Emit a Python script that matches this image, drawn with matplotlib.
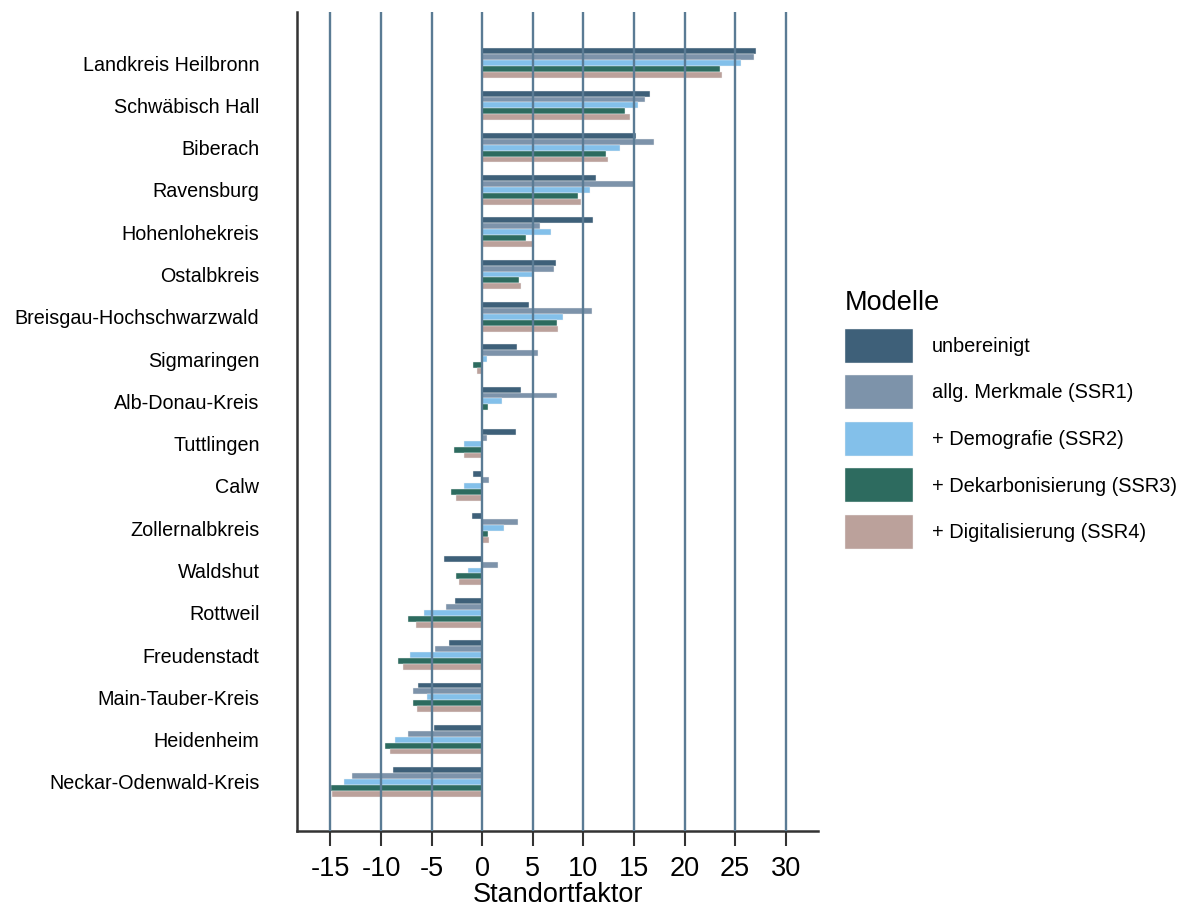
import numpy as np
import matplotlib
matplotlib.use("Agg")
from matplotlib import pyplot as plt

plt.rcParams['font.family'] = ['Liberation Sans', 'DejaVu Sans']
plt.rcParams['axes.unicode_minus'] = False

# Landkreise, von oben nach unten
kreise = ['Landkreis Heilbronn', 'Schwäbisch Hall', 'Biberach', 'Ravensburg',
          'Hohenlohekreis', 'Ostalbkreis', 'Breisgau-Hochschwarzwald', 'Sigmaringen',
          'Alb-Donau-Kreis', 'Tuttlingen', 'Calw', 'Zollernalbkreis', 'Waldshut',
          'Rottweil', 'Freudenstadt', 'Main-Tauber-Kreis', 'Heidenheim',
          'Neckar-Odenwald-Kreis']

unbereinigt = [27.1, 16.6, 15.2, 11.3, 11.0, 7.3, 4.6, 3.4, 3.8, 3.3, -0.9, -1.0,
               -3.8, -2.7, -3.3, -6.3, -4.8, -8.8]
ssr1 = [26.9, 16.1, 17.0, 15.0, 5.7, 7.1, 10.9, 5.5, 7.4, 0.5, 0.7, 3.5,
        1.6, -3.6, -4.7, -6.8, -7.3, -12.9]
ssr2 = [25.6, 15.4, 13.6, 10.7, 6.8, 5.0, 8.0, 0.5, 2.0, -1.8, -1.8, 2.2,
        -1.4, -5.7, -7.1, -5.5, -8.6, -13.7]
ssr3 = [23.5, 14.1, 12.2, 9.5, 4.3, 3.6, 7.4, -0.9, 0.6, -2.8, -3.1, 0.6,
        -2.6, -7.3, -8.3, -6.8, -9.6, -14.9]
ssr4 = [23.7, 14.6, 12.4, 9.8, 5.1, 3.8, 7.5, -0.5, 0.1, -1.8, -2.6, 0.7,
        -2.3, -6.5, -7.8, -6.4, -9.1, -14.8]

modelle = ['unbereinigt', 'allg. Merkmale (SSR1)', '+ Demografie (SSR2)',
           '+ Dekarbonisierung (SSR3)', '+ Digitalisierung (SSR4)']
farben = ['#3e6079', '#7d93aa', '#83c0ea', '#2d6b5f', '#bba19b']
serien = [unbereinigt, ssr1, ssr2, ssr3, ssr4]

fig = plt.figure(figsize=(11.88, 9.06), dpi=100)
ax = fig.add_axes([0.25, 0.0828, 0.4386, 0.904])

y = np.arange(len(kreise))[::-1]
h = 0.14
for i, (werte, farbe, name) in enumerate(zip(serien, farben, modelle)):
    ax.barh(y + (2 - i) * h, werte, height=h, color=farbe, label=name,
            edgecolor='#f2f2f2', linewidth=0.3)

ax.set_xlim(-18.3, 33.2)
ax.set_ylim(-1.16, 18.21)
ax.set_xticks(np.arange(-15, 31, 5))
ax.set_yticks(y)
ax.set_yticklabels(kreise, fontsize=14.2)
ax.tick_params(axis='y', length=0, pad=27)
ax.tick_params(axis='x', length=11, width=1.5, color='#333333', labelsize=19.5, pad=7)

ax.grid(axis='x', color='#5a7b94', linewidth=1.7)
ax.set_axisbelow(False)

for s in ['top', 'right']:
    ax.spines[s].set_visible(False)
for s in ['left', 'bottom']:
    ax.spines[s].set_color('#333333')
    ax.spines[s].set_linewidth(1.8)

ax.set_xlabel('Standortfaktor', fontsize=19.5, labelpad=0)

leg = ax.legend(title='Modelle', loc='upper left', bbox_to_anchor=(1.036, 0.67),
                frameon=False, fontsize=14.4, title_fontsize=19.5,
                handlelength=3.4, handleheight=2.25, labelspacing=0.62,
                handletextpad=0.95, borderaxespad=0)
leg._legend_box.align = 'left'
for p in leg.get_patches():
    p.set_edgecolor('#f2f2f2')

fig.savefig('out.png', dpi=100)
